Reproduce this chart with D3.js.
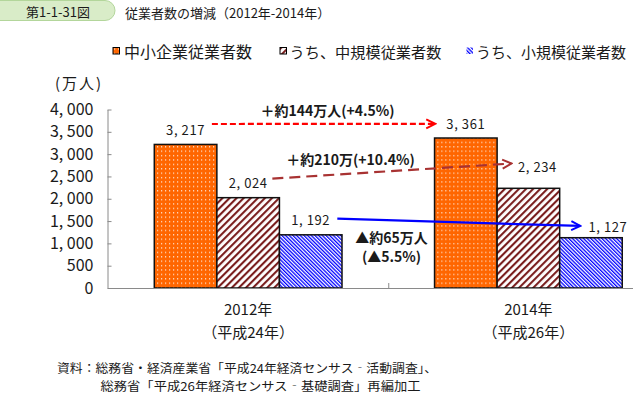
<!DOCTYPE html>
<html>
<head>
<meta charset="utf-8">
<script src="https://cdn.jsdelivr.net/npm/d3@7"></script>
<style>
  body { margin: 0; background: #fff; }
  svg { display: block; }
  text { font-family: "Noto Sans CJK JP", sans-serif; fill: #1a1a1a; }
  .num { font-family: "Liberation Sans Narrow", "Noto Sans CJK JP", sans-serif; }
</style>
</head>
<body>
<svg id="chart" width="633" height="393"></svg>
<script>
// data
const years = ["2012年", "2014年"];
const eras = ["（平成24年）", "（平成26年）"];
const series = ["中小企業従業者数", "うち、中規模従業者数", "うち、小規模従業者数"];
const values2012 = [3217, 2024, 1192];
const values2014 = [3361, 2234, 1127];
const yTicks = [0, 500, 1000, 1500, 2000, 2500, 3000, 3500, 4000];
const changeLabels = [["＋約144万人(+4.5%)"], ["＋約210万(+10.4%)"], ["▲約65万人", "(▲5.5%)"]];
// arrow heights in data units, start (2012) and end (2014)
const arrowLevels = [[3675, 3680], [2450, 2790], [1555, 1390]];
const sources = [
  "資料：総務省・経済産業省「平成24年経済センサス‐活動調査」、",
  "総務省「平成26年経済センサス‐基礎調査」再編加工"
];

const svg = d3.select("#chart");
const width = +svg.attr("width");

const colors = ["#ff6600", "#7a1e1e", "#0000ff"];
const arrowColors = ["#ff0000", "#a83232", "#0000ff"];

// patterns
const defs = svg.append("defs");
const pDots = defs.append("pattern").attr("id", "p0")
  .attr("patternUnits", "userSpaceOnUse").attr("width", 4).attr("height", 4.4);
pDots.append("rect").attr("width", 4).attr("height", 4.4).attr("fill", colors[0]);
pDots.append("rect").attr("x", 1).attr("y", 1).attr("width", 1.2).attr("height", 1.2)
  .attr("fill", "#fff").attr("opacity", 0.85);

const pBrown = defs.append("pattern").attr("id", "p1")
  .attr("patternUnits", "userSpaceOnUse").attr("width", 5).attr("height", 5)
  .attr("patternTransform", "rotate(45)");
pBrown.append("rect").attr("width", 5).attr("height", 5).attr("fill", "#fff");
pBrown.append("rect").attr("width", 2.1).attr("height", 5).attr("fill", colors[1]);

const pBlue = defs.append("pattern").attr("id", "p2")
  .attr("patternUnits", "userSpaceOnUse").attr("width", 2.6).attr("height", 2.6)
  .attr("patternTransform", "rotate(-45)");
pBlue.append("rect").attr("width", 2.6).attr("height", 2.6).attr("fill", "#fff");
pBlue.append("rect").attr("width", 1.3).attr("height", 2.6).attr("fill", colors[2]);

arrowColors.forEach((c, i) => {
  defs.append("marker").attr("id", "m" + i)
    .attr("markerUnits", "userSpaceOnUse")
    .attr("viewBox", "-1 -6 12 12").attr("refX", 9).attr("refY", 0)
    .attr("markerWidth", 12).attr("markerHeight", 12).attr("orient", "auto")
    .append("path").attr("d", "M0,-4.5L9,0L0,4.5")
    .attr("fill", "none").attr("stroke", c).attr("stroke-width", 2);
});

// title badge
svg.append("rect").attr("x", -12).attr("y", 0.5).attr("width", 127).attr("height", 20)
  .attr("rx", 10).attr("fill", "#d9ecc8").attr("stroke", "#b3d69b");
svg.append("text").attr("x", 58).attr("y", 11).attr("dominant-baseline", "central")
  .attr("text-anchor", "middle").style("font-size", "13px").text("第1-1-31図");
svg.append("text").attr("x", 125).attr("y", 12).attr("dominant-baseline", "central")
  .style("font-size", "13px").text("従業者数の増減（2012年-2014年）");

// legend
const legendX = [113, 280, 466.5];
const legendSize = [16, 15.2, 15];
const legend = svg.append("g").selectAll("g").data(series).join("g")
  .attr("transform", (d, i) => `translate(${legendX[i]},47.5)`);
legend.append("rect").attr("width", 6.5).attr("height", 6.5)
  .attr("fill", (d, i) => `url(#p${i})`)
  .attr("stroke", (d, i) => i < 2 ? "#000" : "none").attr("stroke-width", 1);
legend.append("text").attr("x", (d, i) => i === 0 ? 11 : 9.5).attr("y", 3.5)
  .attr("dominant-baseline", "central").style("font-size", (d, i) => legendSize[i] + "px")
  .text(d => d);

svg.append("text").attr("x", 55).attr("y", 82).attr("dominant-baseline", "central")
  .style("font-size", "15px").style("letter-spacing", "2px").text("(万人)");

// scales
const x0 = d3.scaleBand().domain(years).range([108, 668.5]);
const x1 = d3.scaleBand().domain(series).range([46.3, 234]);
const y = d3.scaleLinear().domain([0, 4000]).range([288, 109.5]);
const fmt = v => d3.format(",")(v).replace(",", ", ");

// y axis
const yAxis = svg.append("g").attr("transform", "translate(107.5,0)")
  .call(d3.axisLeft(y).tickValues(yTicks).tickSize(-4).tickSizeOuter(0).tickPadding(14).tickFormat(fmt));
yAxis.select(".domain").attr("stroke", "#8a8a8a");
yAxis.selectAll(".tick line").attr("stroke", "#8a8a8a");
yAxis.selectAll("text").attr("class", "num").style("font-size", "16px").attr("fill", "#111");

// bars
const table = years.map((yr, i) => ({
  year: yr,
  values: series.map((s, j) => ({ s, j, i, v: (i === 0 ? values2012 : values2014)[j] }))
}));

const groups = svg.append("g").selectAll("g").data(table).join("g")
  .attr("transform", d => `translate(${x0(d.year)},0)`);
groups.selectAll("rect").data(d => d.values).join("rect")
  .attr("x", d => x1(d.s))
  .attr("y", d => y(d.v))
  .attr("width", x1.bandwidth())
  .attr("height", d => y(0) - y(d.v))
  .attr("fill", d => `url(#p${d.j})`)
  .attr("stroke", "#111").attr("stroke-width", 1.5);

// x axis
svg.append("line").attr("x1", 108).attr("x2", width).attr("y1", 288.5).attr("y2", 288.5)
  .attr("stroke", "#8a8a8a");
svg.selectAll(".xtick").data(years.slice(1)).join("line").attr("class", "xtick")
  .attr("x1", d => x0(d) + 0.5).attr("x2", d => x0(d) + 0.5)
  .attr("y1", 288).attr("y2", 283).attr("stroke", "#8a8a8a");

const cats = svg.append("g").selectAll("g").data(years).join("g")
  .attr("transform", d => `translate(${x0(d) + x0.bandwidth() / 2},0)`);
cats.append("text").attr("class", "num").attr("y", 308).attr("text-anchor", "middle")
  .attr("dominant-baseline", "central").style("font-size", "15px").text(d => d);
cats.append("text").attr("class", "num").attr("y", 331.5).attr("text-anchor", "middle")
  .attr("dominant-baseline", "central").style("font-size", "15px").text((d, i) => eras[i]);

// value labels; the 2014 ones for the two smaller series sit beside the arrow tips
const labelShift = [[[0, 0], [0, 0], [0, 0]], [[0, 0], [9, -7], [17, 4]]];
groups.selectAll(".val").data(d => d.values).join("text").attr("class", "num val")
  .attr("x", d => x1(d.s) + x1.bandwidth() / 2 + labelShift[d.i][d.j][0])
  .attr("y", d => y(d.v) - 15 + labelShift[d.i][d.j][1])
  .attr("text-anchor", "middle").attr("dominant-baseline", "central")
  .style("font-size", "13px").style("letter-spacing", "0.6px").text(d => fmt(d.v));

// change arrows
const center = (yr, j) => x0(yr) + x1(series[j]) + x1.bandwidth() / 2;
const arrowDx = [[26.3, -30.6], [24.2, -17], [26.6, -10.7]];
const dashes = ["6,3", "11,6", null];
series.forEach((s, j) => {
  svg.append("line")
    .attr("x1", center(years[0], j) + arrowDx[j][0]).attr("y1", y(arrowLevels[j][0]))
    .attr("x2", center(years[1], j) + arrowDx[j][1]).attr("y2", y(arrowLevels[j][1]))
    .attr("stroke", arrowColors[j]).attr("stroke-width", 2.2)
    .attr("stroke-dasharray", dashes[j])
    .attr("marker-end", `url(#m${j})`);
});

const changePos = [[327.5, 109.5], [350.5, 158.5], [391.5, 237]];
const changeFill = ["#ff0000", "#ff0000", "#0000ff"];
changeLabels.forEach((lines, j) => {
  lines.forEach((t, k) => {
    svg.append("text").attr("x", changePos[j][0]).attr("y", changePos[j][1] + k * 19)
      .attr("text-anchor", "middle").attr("dominant-baseline", "central")
      .style("font-size", "14px").style("font-weight", "bold")
      .attr("fill", changeFill[j]).text(t);
  });
});

// source note
svg.append("text").attr("x", 57).attr("y", 367.5).attr("dominant-baseline", "central")
  .style("font-size", "12px").attr("textLength", 380).attr("lengthAdjust", "spacingAndGlyphs")
  .text(sources[0]);
svg.append("text").attr("x", 100.5).attr("y", 385).attr("dominant-baseline", "central")
  .style("font-size", "12px").attr("textLength", 320).attr("lengthAdjust", "spacingAndGlyphs")
  .text(sources[1]);
</script>
</body>
</html>
